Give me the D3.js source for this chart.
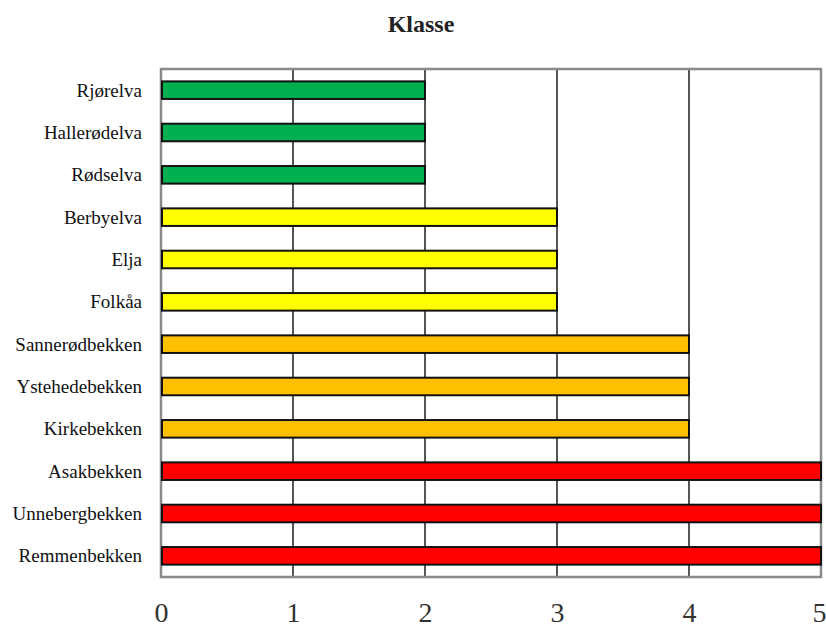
<!DOCTYPE html>
<html>
<head>
<meta charset="utf-8">
<script src="https://cdn.jsdelivr.net/npm/d3@7"></script>
<style>
  html, body { margin: 0; padding: 0; background: #fff; }
  svg { display: block; }
</style>
</head>
<body>
<svg id="chart" width="826" height="630"></svg>
<script>
// Watercourses and their condition class (1–5)
const rivers = ["Rjørelva", "Hallerødelva", "Rødselva", "Berbyelva", "Elja", "Folkåa",
  "Sannerødbekken", "Ystehedebekken", "Kirkebekken", "Asakbekken", "Unnebergbekken", "Remmenbekken"];
const klasse = [2, 2, 2, 3, 3, 3, 4, 4, 4, 5, 5, 5];
const xTicks = [0, 1, 2, 3, 4, 5];
const classColors = { 2: "#00b050", 3: "#ffff00", 4: "#ffc000", 5: "#ff0000" };

const svg = d3.select("#chart");
const W = 826, H = 630;
const m = { top: 69, right: 5, bottom: 53, left: 161 };

const x = d3.scaleLinear().domain([0, 5]).range([m.left, W - m.right]);
const y = d3.scaleBand().domain(rivers)
  .range([m.top, H - m.bottom])
  .paddingInner(0.585).paddingOuter(0.2925);

const serif = "'Liberation Serif', 'DejaVu Serif', 'Times New Roman', serif";

// Title
svg.append("text")
  .attr("x", 421).attr("y", 32)
  .attr("text-anchor", "middle")
  .attr("font-family", serif).attr("font-size", 24).attr("font-weight", "bold")
  .attr("fill", "#222")
  .text("Klasse");

// Plot background
svg.append("rect")
  .attr("x", x(0)).attr("y", m.top)
  .attr("width", x(5) - x(0)).attr("height", H - m.bottom - m.top)
  .attr("fill", "#fff");

// Vertical gridlines
svg.append("g").selectAll("line")
  .data(xTicks.filter(t => t > 0 && t < 5))
  .join("line")
  .attr("x1", d => x(d)).attr("x2", d => x(d))
  .attr("y1", m.top).attr("y2", H - m.bottom)
  .attr("stroke", "#555").attr("stroke-width", 2);

// Plot frame
svg.append("rect")
  .attr("x", x(0)).attr("y", m.top)
  .attr("width", x(5) - x(0)).attr("height", H - m.bottom - m.top)
  .attr("fill", "none").attr("stroke", "#8a8a8a").attr("stroke-width", 2.5);

// Bars
svg.append("g").selectAll("rect")
  .data(rivers.map((r, i) => ({ r, v: klasse[i] })))
  .join("rect")
  .attr("x", x(0) + 1)
  .attr("y", d => y(d.r))
  .attr("width", d => x(d.v) - x(0) - 1)
  .attr("height", y.bandwidth())
  .attr("fill", d => classColors[d.v])
  .attr("stroke", "#111").attr("stroke-width", 2);

// Category labels
svg.append("g").selectAll("text")
  .data(rivers)
  .join("text")
  .attr("x", 142)
  .attr("y", d => y(d) + y.bandwidth() / 2 + 6.5)
  .attr("text-anchor", "end")
  .attr("font-family", serif).attr("font-size", 19)
  .attr("fill", "#111")
  .text(d => d);

// X axis tick labels
const xAxis = d3.axisBottom(x).tickValues(xTicks).tickSize(0).tickPadding(0).tickFormat(d3.format("d"));
const gx = svg.append("g").attr("transform", `translate(0, ${H - m.bottom})`).call(xAxis);
gx.select(".domain").remove();
gx.selectAll("text")
  .attr("dy", 0)
  .attr("y", 45)
  .attr("font-family", serif).attr("font-size", 28)
  .attr("fill", "#333")
  .attr("text-anchor", d => d === 5 ? "end" : "middle")
  .attr("dx", d => d === 5 ? 5 : 0);
</script>
</body>
</html>
